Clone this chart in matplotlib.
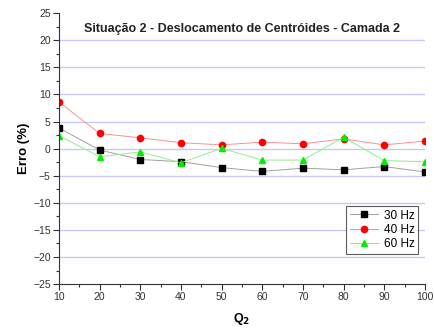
import matplotlib
matplotlib.use("Agg")
import matplotlib.pyplot as plt
from matplotlib.ticker import MultipleLocator

plt.rcParams['font.family'] = ['Liberation Sans', 'DejaVu Sans']

q2 = [10, 20, 30, 40, 50, 60, 70, 80, 90, 100]
hz30 = [3.8, -0.25, -2.0, -2.4, -3.5, -4.2, -3.6, -3.9, -3.3, -4.3]
hz40 = [8.6, 2.8, 2.0, 1.1, 0.7, 1.2, 0.9, 1.8, 0.7, 1.4]
hz60 = [2.4, -1.5, -0.6, -2.6, 0.05, -2.1, -2.1, 2.1, -2.2, -2.4]
labels = ['30 Hz', '40 Hz', '60 Hz']

fig = plt.figure(figsize=(4.34, 3.30), dpi=100)
ax = fig.add_axes([0.136, 0.139, 0.843, 0.821])

for y in [-20, -15, -10, -5, 0, 5, 10, 15, 20]:
    ax.axhline(y, color='#c8c8f8', lw=1.0, zorder=0)

ax.plot(q2, hz30, color='#a0a0a0', lw=0.7, marker='s', ms=4, mfc='black', mec='black', label=labels[0])
ax.plot(q2, hz40, color='#ff9090', lw=0.7, marker='o', ms=4.5, mfc='red', mec='red', label=labels[1])
ax.plot(q2, hz60, color='#90ee90', lw=0.7, marker='^', ms=5, mfc='#00ee00', mec='#00ee00', label=labels[2])

ax.set_xlim(10, 100)
ax.set_ylim(-25, 25)
ax.xaxis.set_major_locator(MultipleLocator(10))
ax.xaxis.set_minor_locator(MultipleLocator(5))
ax.yaxis.set_major_locator(MultipleLocator(5))
ax.yaxis.set_minor_locator(MultipleLocator(2.5))
ax.spines['top'].set_visible(False)
ax.spines['right'].set_visible(False)
for s in ['left', 'bottom']:
    ax.spines[s].set_color('#333333')
    ax.spines[s].set_linewidth(0.8)
ax.tick_params(which='major', length=4, width=0.8, labelsize=7.5, colors='#333333', pad=2)
ax.tick_params(which='minor', length=2, width=0.8, colors='#333333')

ax.set_xlabel('Q$_\\mathbf{2}$', fontsize=9, fontweight='bold', labelpad=6)
ax.set_ylabel('Erro (%)', fontsize=9.5, fontweight='bold', labelpad=2)
ax.text(0.5, 0.942, 'Situação 2 - Deslocamento de Centróides - Camada 2', transform=ax.transAxes,
        ha='center', va='center', fontsize=9, fontweight='bold', color='#222222')

leg = ax.legend(loc='lower right', bbox_to_anchor=(0.998, 0.09), fontsize=8.5, frameon=True, fancybox=False,
                edgecolor='#333333', handlelength=2.4, borderpad=0.3, labelspacing=0.2, handletextpad=0.5)
leg.get_frame().set_linewidth(0.8)

fig.savefig('out.png', dpi=100)
